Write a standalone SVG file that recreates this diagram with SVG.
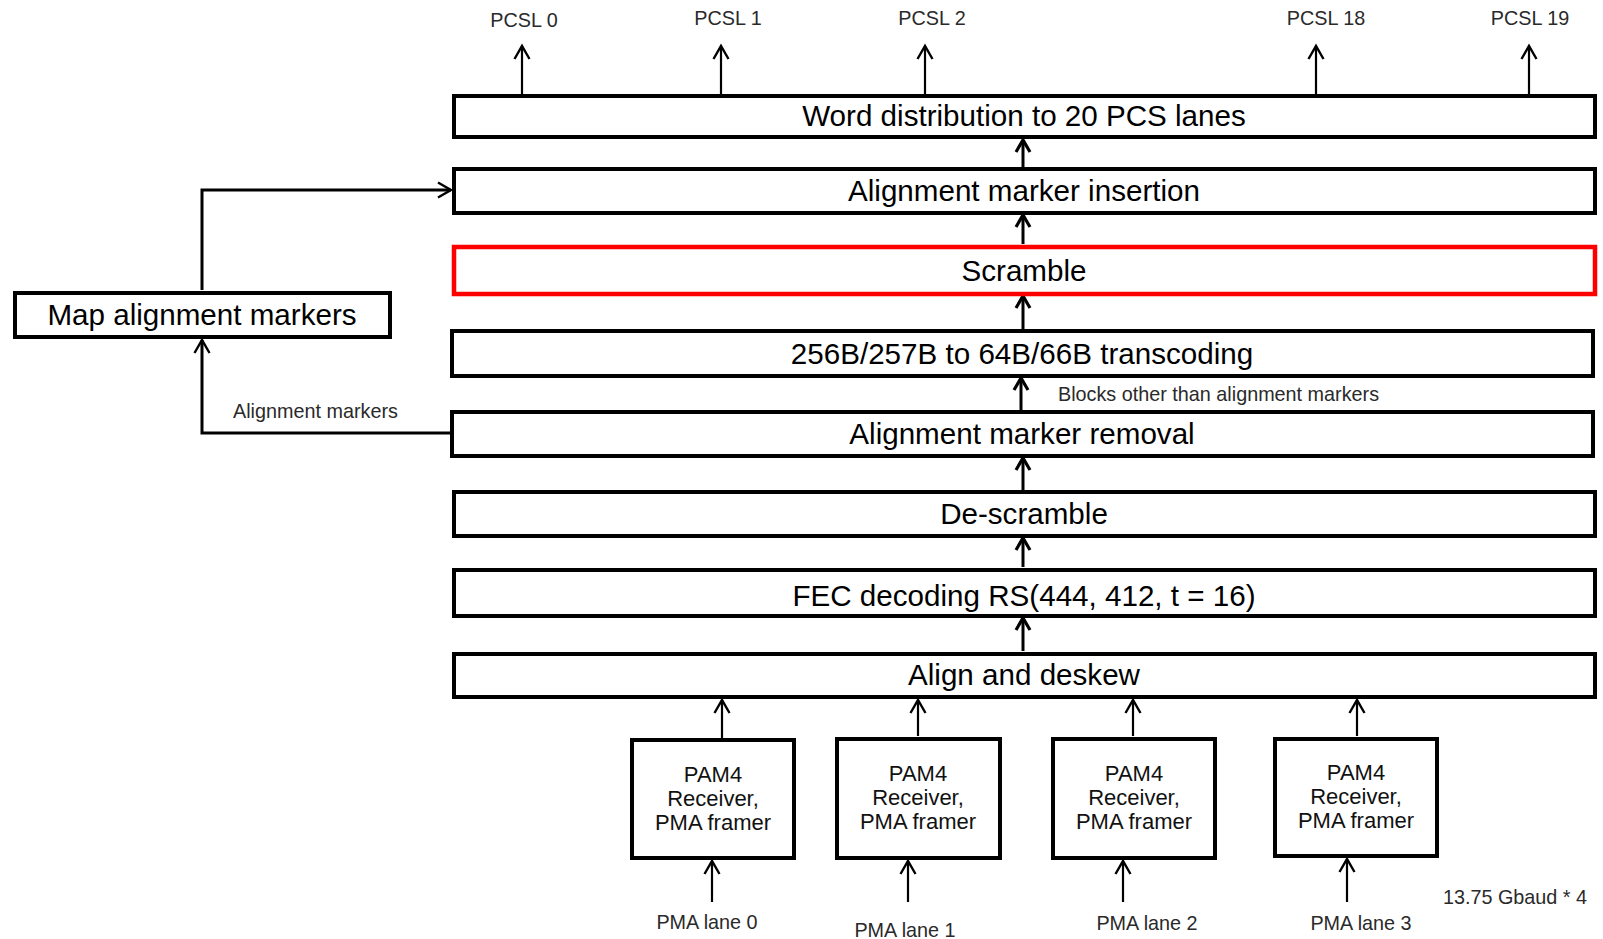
<svg xmlns="http://www.w3.org/2000/svg" width="1603" height="939" viewBox="0 0 1603 939">
<style>
.box{fill:#fff;stroke:#000;stroke-width:4}
.red{fill:#fff;stroke:#ff0000;stroke-width:4.5}
.big{font-family:"Liberation Sans",Arial,sans-serif;font-size:29.6px;fill:#000;text-anchor:middle;dominant-baseline:central}
.pam{font-family:"Liberation Sans",Arial,sans-serif;font-size:22px;fill:#111;text-anchor:middle}
.sm{font-family:"Liberation Sans",Arial,sans-serif;font-size:19.8px;fill:#2a2a2a}
.c{text-anchor:middle}
.thick{fill:none;stroke:#000;stroke-width:3;marker-end:url(#ah)}
.thin{fill:none;stroke:#000;stroke-width:2.2;marker-end:url(#at)}
.conn{fill:none;stroke:#000;stroke-width:3;marker-end:url(#at)}
</style>
<defs>
<marker id="ah" markerUnits="userSpaceOnUse" markerWidth="30" markerHeight="30" viewBox="-15 -15 30 30" refX="0" refY="0" orient="auto">
<path d="M -12 -7 L 0 0 L -12 7" fill="none" stroke="#000" stroke-width="3.2"/>
</marker>
<marker id="at" markerUnits="userSpaceOnUse" markerWidth="30" markerHeight="30" viewBox="-15 -15 30 30" refX="0" refY="0" orient="auto">
<path d="M -13 -7.5 L 0 0 L -13 7.5" fill="none" stroke="#000" stroke-width="2.4"/>
</marker>
</defs>
<rect width="1603" height="939" fill="#fff"/>

<g id="connectors">
<path class="thin" d="M522 95 V46"/>
<path class="thin" d="M721 95 V46"/>
<path class="thin" d="M925 95 V46"/>
<path class="thin" d="M1316 95 V46"/>
<path class="thin" d="M1529 95 V46"/>
<path class="thick" d="M1023 168 V140"/>
<path class="thick" d="M1023 244 V215"/>
<path class="thick" d="M1023 329 V296"/>
<path class="thick" d="M1021 410 V378"/>
<path class="thick" d="M1023 490 V458"/>
<path class="thick" d="M1023 567 V538"/>
<path class="thick" d="M1023 651 V618"/>
<path class="conn" d="M202 290 V190 H451"/>
<path class="conn" d="M450 433 H202 V340"/>
<path class="thin" d="M722 738 V700"/>
<path class="thin" d="M918 736 V700"/>
<path class="thin" d="M1133 736 V700"/>
<path class="thin" d="M1357 736 V700"/>
<path class="thin" d="M712 902 V861"/>
<path class="thin" d="M908 902 V861"/>
<path class="thin" d="M1123 902 V861"/>
<path class="thin" d="M1347 902 V859"/>
</g>

<g id="pcsl-labels">
<text class="sm c" x="524" y="27">PCSL 0</text>
<text class="sm c" x="728" y="25">PCSL 1</text>
<text class="sm c" x="932" y="25">PCSL 2</text>
<text class="sm c" x="1326" y="25">PCSL 18</text>
<text class="sm c" x="1530" y="25">PCSL 19</text>
</g>

<g id="word-distribution">
<rect class="box" x="454" y="96" width="1141" height="41"/>
<text class="big" x="1024" y="115">Word distribution to 20 PCS lanes</text>
</g>
<g id="am-insertion">
<rect class="box" x="454" y="169" width="1141" height="44"/>
<text class="big" x="1024" y="190">Alignment marker insertion</text>
</g>
<g id="scramble">
<rect class="red" x="454" y="247" width="1141" height="47"/>
<text class="big" x="1024" y="270">Scramble</text>
</g>
<g id="transcoding">
<rect class="box" x="452" y="331" width="1141" height="45"/>
<text class="big" x="1022" y="353">256B/257B to 64B/66B transcoding</text>
</g>
<text class="sm" x="1058" y="401">Blocks other than alignment markers</text>
<g id="am-removal">
<rect class="box" x="452" y="412" width="1141" height="44"/>
<text class="big" x="1022" y="433">Alignment marker removal</text>
</g>
<g id="descramble">
<rect class="box" x="454" y="492" width="1141" height="44"/>
<text class="big" x="1024" y="513">De-scramble</text>
</g>
<g id="fec">
<rect class="box" x="454" y="570" width="1141" height="46"/>
<text class="big" x="1024" y="595">FEC decoding RS(444, 412, t = 16)</text>
</g>
<g id="align-deskew">
<rect class="box" x="454" y="654" width="1141" height="43"/>
<text class="big" x="1024" y="674">Align and deskew</text>
</g>

<g id="map-am">
<rect class="box" x="15" y="293" width="375" height="44"/>
<text class="big" x="202" y="314">Map alignment markers</text>
</g>
<text class="sm" x="233" y="418">Alignment markers</text>

<g id="pam0">
<rect class="box" x="632" y="740" width="162" height="118"/>
<text class="pam" x="713" y="782">PAM4</text>
<text class="pam" x="713" y="806">Receiver,</text>
<text class="pam" x="713" y="830">PMA framer</text>
</g>
<g id="pam1">
<rect class="box" x="837" y="739" width="163" height="119"/>
<text class="pam" x="918" y="781">PAM4</text>
<text class="pam" x="918" y="805">Receiver,</text>
<text class="pam" x="918" y="829">PMA framer</text>
</g>
<g id="pam2">
<rect class="box" x="1053" y="739" width="162" height="119"/>
<text class="pam" x="1134" y="781">PAM4</text>
<text class="pam" x="1134" y="805">Receiver,</text>
<text class="pam" x="1134" y="829">PMA framer</text>
</g>
<g id="pam3">
<rect class="box" x="1275" y="739" width="162" height="117"/>
<text class="pam" x="1356" y="780">PAM4</text>
<text class="pam" x="1356" y="804">Receiver,</text>
<text class="pam" x="1356" y="828">PMA framer</text>
</g>

<g id="lane-labels">
<text class="sm c" x="707" y="929">PMA lane 0</text>
<text class="sm c" x="905" y="937">PMA lane 1</text>
<text class="sm c" x="1147" y="930">PMA lane 2</text>
<text class="sm c" x="1361" y="930">PMA lane 3</text>
<text class="sm c" x="1515" y="904">13.75 Gbaud * 4</text>
</g>
</svg>
